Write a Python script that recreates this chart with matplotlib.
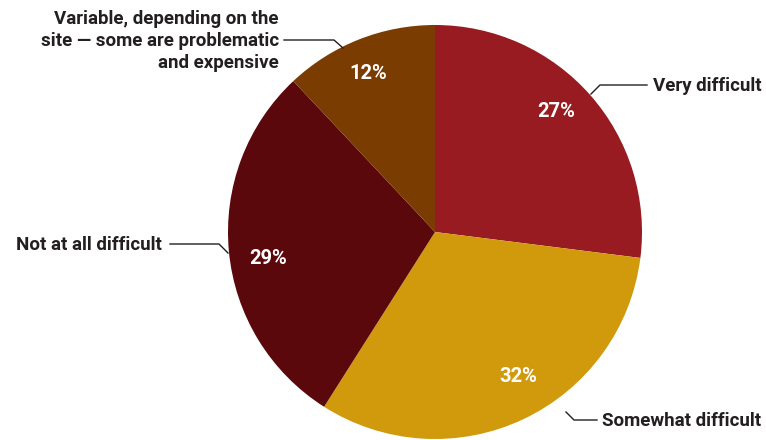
import matplotlib.pyplot as plt
from matplotlib import font_manager

categories = ["Very difficult", "Somewhat difficult", "Not at all difficult",
              "Variable, depending on the\nsite \u2014 some are problematic\nand expensive"]
shares = [27, 32, 29, 12]
colors = ["#981B21", "#D19A0C", "#5A080C", "#7A3C00"]

names = {f.name for f in font_manager.fontManager.ttflist}
fam = ["Liberation Sans Narrow", "DejaVu Sans"] if "Liberation Sans Narrow" in names else ["Roboto", "DejaVu Sans"]
plt.rcParams["font.family"] = fam

W, H = 766, 440
fig = plt.figure(figsize=(W / 100, H / 100), dpi=100)
ax = fig.add_axes([0, 0, 1, 1])

cx, cy, r = 435, 232, 207
# y axis is inverted, so a counterclockwise pie looks clockwise on screen
wedges, _ = ax.pie(shares, colors=colors, startangle=-90, counterclock=True,
                   center=(cx, cy), radius=r, frame=True,
                   wedgeprops=dict(linewidth=0))
ax.set_xlim(0, W)
ax.set_ylim(H, 0)
ax.set_aspect("equal")
ax.axis("off")

# percentage labels
pct_pos = [(556, 111), (518, 376), (268, 258), (368, 73)]
for v, (x, y) in zip(shares, pct_pos):
    ax.text(x, y, f"{v}%", color="white", fontsize=14.5, fontweight="bold",
            ha="center", va="center")

# leader lines and category labels
txt = "#231F20"
lines = [
    [(591, 94), (600, 85), (647, 85)],
    [(566, 412), (574, 420), (597, 420)],
    [(228, 253), (219, 244), (170, 244)],
    [(343, 48), (334, 40), (284, 40)],
]
for pts in lines:
    xs, ys = zip(*pts)
    ax.plot(xs, ys, color=txt, lw=1)

ax.text(653, 86, categories[0], color=txt, fontsize=13.5, fontweight="bold",
        ha="left", va="center")
ax.text(602, 421, categories[1], color=txt, fontsize=13.5, fontweight="bold",
        ha="left", va="center")
ax.text(162, 245, categories[2], color=txt, fontsize=13.5, fontweight="bold",
        ha="right", va="center")
ax.text(279, 41, categories[3], color=txt, fontsize=13.5, fontweight="bold",
        ha="right", va="center", linespacing=1.3)

fig.savefig("out.png", dpi=100)
